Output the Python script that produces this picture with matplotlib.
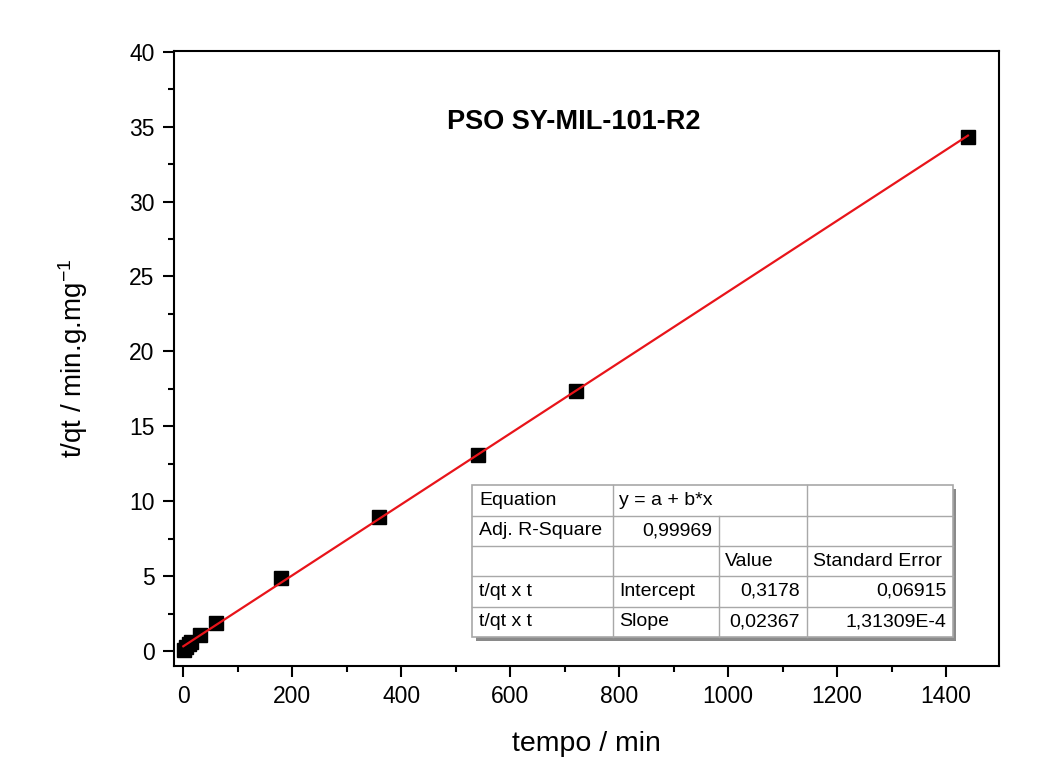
import matplotlib
matplotlib.use("Agg")
import matplotlib.pyplot as plt
from matplotlib.patches import Rectangle
from matplotlib.ticker import MultipleLocator
import numpy as np

plt.rcParams['font.family'] = ['Liberation Sans', 'DejaVu Sans']
plt.rcParams['mathtext.default'] = 'regular'

# Pseudo-second-order linearisation data
tempo = [1, 5, 10, 15, 30, 60, 180, 360, 540, 720, 1440]
t_qt = [0.05, 0.25, 0.45, 0.6, 1.05, 1.85, 4.9, 8.95, 13.1, 17.35, 34.3]

# Linear fit parameters
intercept = 0.3178
slope = 0.02367

title = "PSO SY-MIL-101-R2"
table_rows = [
    ["Equation", "y = a + b*x", "", ""],
    ["Adj. R-Square", "0,99969", "", ""],
    ["", "", "Value", "Standard Error"],
    ["t/qt x t", "Intercept", "0,3178", "0,06915"],
    ["t/qt x t", "Slope", "0,02367", "1,31309E-4"],
]

fig = plt.figure(figsize=(10.58, 7.63), dpi=100)
ax = fig.add_axes([0.1645, 0.1271, 0.7797, 0.8061])

ax.plot(tempo, t_qt, linestyle='none', marker='s', ms=9.5, color='black', zorder=3)
xf = np.array([0, max(tempo)])
ax.plot(xf, intercept + slope * xf, color='#e8141a', lw=1.6, zorder=4)

ax.set_xlim(-17, 1497)
ax.set_ylim(-1, 40.05)
ax.xaxis.set_major_locator(MultipleLocator(200))
ax.xaxis.set_minor_locator(MultipleLocator(100))
ax.yaxis.set_major_locator(MultipleLocator(5))
ax.yaxis.set_minor_locator(MultipleLocator(2.5))
ax.tick_params(which='both', direction='out', top=False, right=False, width=1.5,
               labelsize=16.5)
ax.tick_params(which='major', length=8, pad=6)
ax.tick_params(which='minor', length=4.5)
for sp in ax.spines.values():
    sp.set_linewidth(1.5)

ax.set_xlabel("tempo / min", fontsize=20.5, labelpad=16)
ax.set_ylabel("t/qt / min.g.mg$^{-1}$", fontsize=20, labelpad=28)

ax.text(717, 35.3, title, ha='center', va='center', fontsize=19.5, fontweight='bold')

# Fit results table, drawn in axes fractions
x0, x1 = 0.3617, 0.944
y0, y1 = 0.0472, 0.294
widths = np.array([140, 106, 88, 146], dtype=float)
edges = x0 + np.concatenate([[0], np.cumsum(widths)]) / widths.sum() * (x1 - x0)
nrows = len(table_rows)
rh = (y1 - y0) / nrows
grid_c = '#a8a8a8'

ax.add_patch(Rectangle((x0 + 0.004, y0 - 0.006), x1 - x0, y1 - y0, transform=ax.transAxes,
                       facecolor='#8a8a8a', edgecolor='none', zorder=5))
ax.add_patch(Rectangle((x0, y0), x1 - x0, y1 - y0, transform=ax.transAxes,
                       facecolor='white', edgecolor=grid_c, lw=1.2, zorder=6))
for r in range(1, nrows):
    yy = y1 - r * rh
    ax.plot([x0, x1], [yy, yy], transform=ax.transAxes, color=grid_c, lw=1.0, zorder=7)
for r in range(nrows):
    top = y1 - r * rh
    for c in (1, 2, 3):
        if r == 0 and c == 2:
            continue
        ax.plot([edges[c], edges[c]], [top, top - rh], transform=ax.transAxes,
                color=grid_c, lw=1.0, zorder=7)

align = [
    ['left', 'left', 'left', 'left'],
    ['left', 'right', 'left', 'left'],
    ['left', 'left', 'left', 'left'],
    ['left', 'left', 'right', 'right'],
    ['left', 'left', 'right', 'right'],
]
pad = 0.008
for r, row in enumerate(table_rows):
    yc = y1 - (r + 0.5) * rh
    for c, txt in enumerate(row):
        if not txt:
            continue
        if align[r][c] == 'left':
            xx, ha = edges[c] + pad, 'left'
        else:
            xx, ha = edges[c + 1] - pad, 'right'
        ax.text(xx, yc, txt, transform=ax.transAxes, ha=ha, va='center',
                fontsize=14, zorder=8)

fig.savefig("out.png", dpi=100)
